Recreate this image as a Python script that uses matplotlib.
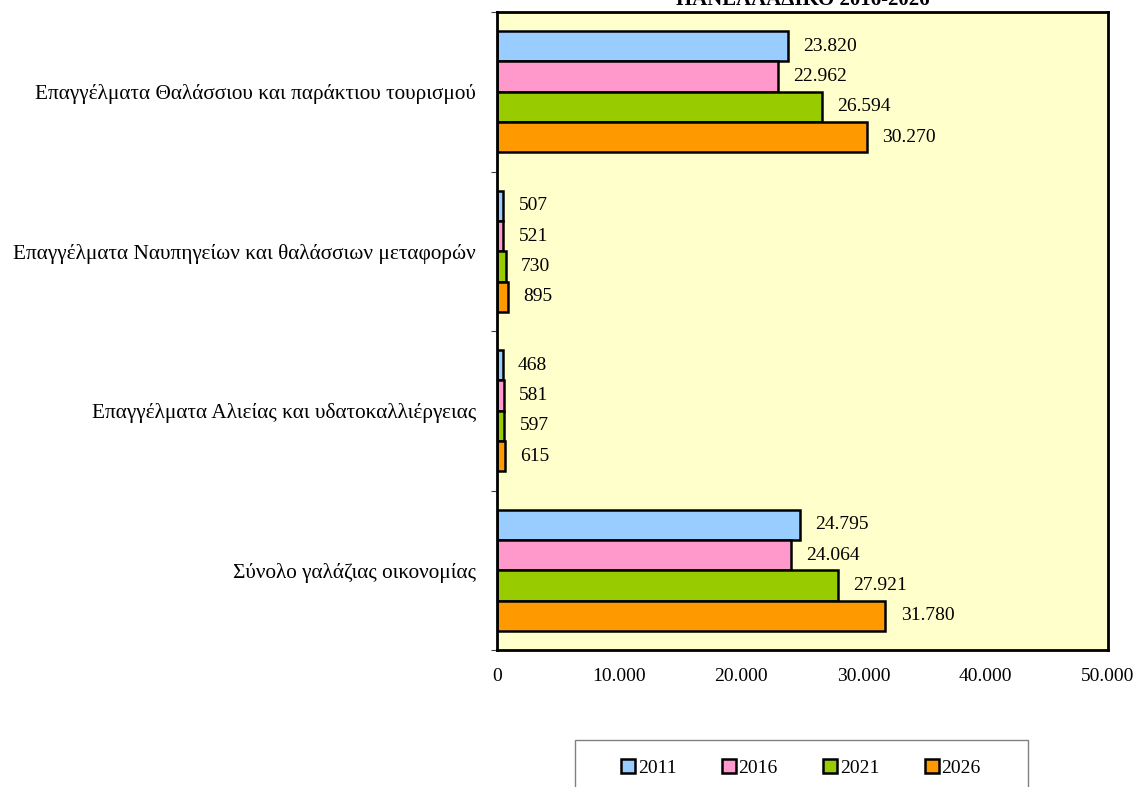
import matplotlib
matplotlib.use('agg')
import matplotlib.pyplot as plt
import numpy as np
from matplotlib.patches import Rectangle

plt.rcParams['font.family'] = ['Liberation Serif', 'DejaVu Serif']

categories = ['Σύνολο γαλάζιας οικονομίας',
              'Επαγγέλματα Αλιείας και υδατοκαλλιέργειας',
              'Επαγγέλματα Ναυπηγείων και θαλάσσιων μεταφορών',
              'Επαγγέλματα Θαλάσσιου και παράκτιου τουρισμού']
years = ['2011', '2016', '2021', '2026']
v2011 = [24795, 468, 507, 23820]
v2016 = [24064, 581, 521, 22962]
v2021 = [27921, 597, 730, 26594]
v2026 = [31780, 615, 895, 30270]
colors = ['#99CCFF', '#FF99CC', '#99CC00', '#FF9900']
title = 'ΠΑΝΕΛΛΑΔΙΚΟ 2016-2026'

W, H = 1147, 787
fig = plt.figure(figsize=(W / 100, H / 100), dpi=100)
ax = fig.add_axes([497 / W, 1 - 650 / H, (1108 - 497) / W, (650 - 12) / H])
ax.set_facecolor('#FFFFCC')

y = np.arange(len(categories))
h = 0.19
series = [v2011, v2016, v2021, v2026]
for k, (vals, c, yr) in enumerate(zip(series, colors, years)):
    pos = y + (1.5 - k) * h
    ax.barh(pos, vals, height=h, color=c, edgecolor='black', linewidth=1.8, label=yr)
    for p, v in zip(pos, vals):
        ax.text(v + 1250, p, f'{v:,}'.replace(',', '.'), va='center', ha='left', fontsize=14)

ax.set_xlim(0, 50000)
ax.set_ylim(-0.5, 3.5)
ax.set_xticks(np.arange(0, 50001, 10000))
ax.set_xticklabels([f'{t:,}'.replace(',', '.') for t in range(0, 50001, 10000)], fontsize=14)
ax.tick_params(axis='x', length=0, pad=13)
ax.set_yticks(y)
ax.set_yticklabels(categories, fontsize=15.3)
ax.tick_params(axis='y', which='major', length=0, pad=15)
ax.set_yticks(np.arange(-0.5, 4, 1), minor=True)
ax.tick_params(axis='y', which='minor', length=4, width=0.8, color='#404040')
for s in ax.spines.values():
    s.set_linewidth(2)
    s.set_color('black')

fig.text(803 / W, 1 - 5 / H, title, ha='center', va='baseline', fontsize=15, fontweight='bold')

leg = fig.legend(loc='center', bbox_to_anchor=(801 / W, 1 - 768 / H), ncol=4, frameon=False,
                 fontsize=14, handlelength=0.7, handleheight=0.7, handletextpad=0.15,
                 columnspacing=2.35)
for hnd in leg.legend_handles:
    hnd.set_linewidth(1.8)
fig.patches.append(Rectangle((575 / W, -0.02), (1028 - 575) / W, 0.02 + 1 - 740 / H,
                             transform=fig.transFigure, fill=False, edgecolor='#808080', linewidth=1))

fig.savefig('out.png', dpi=100)
